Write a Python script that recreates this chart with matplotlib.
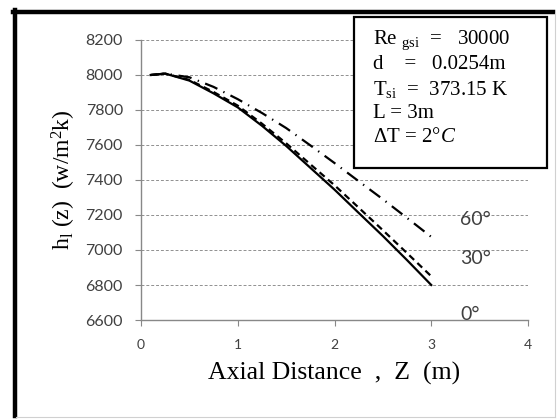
import matplotlib
matplotlib.use("Agg")
import matplotlib.pyplot as plt
from matplotlib.patches import Rectangle
from matplotlib.lines import Line2D

plt.rcParams['mathtext.fontset'] = 'custom'
plt.rcParams['mathtext.rm'] = 'Liberation Serif'
plt.rcParams['mathtext.it'] = 'Liberation Serif:italic'
plt.rcParams['mathtext.bf'] = 'Liberation Serif:bold'

z = [0.1, 0.25, 0.5, 0.75, 1.0, 1.25, 1.5, 1.75, 2.0, 2.25, 2.5, 2.75, 3.0]
h_0 = [8000, 8008, 7968, 7895, 7815, 7710, 7595, 7470, 7345, 7212, 7080, 6942, 6800]
h_30 = [8000, 8008, 7972, 7903, 7825, 7722, 7610, 7490, 7370, 7242, 7113, 6982, 6850]
h_60 = [8000, 8008, 7987, 7932, 7862, 7783, 7697, 7598, 7497, 7393, 7290, 7183, 7075]
angle_labels = ['60°', '30°', '0°']
angle_label_y = [7177, 6949, 6634]
yticks = [6600, 6800, 7000, 7200, 7400, 7600, 7800, 8000, 8200]
xticks = [0, 1, 2, 3, 4]
info_lines = [r'Re $_{\rm gsi}$  =   30000',
              r'd    =   0.0254m',
              r'T$_{\rm si}$  =  373.15 K',
              r'L = 3m',
              r'ΔT = 2°$\it{C}$']

fig = plt.figure(figsize=(5.6, 4.19), dpi=100)
fig.patch.set_facecolor('white')

# outer frame
fig.add_artist(Line2D([14.5/560, 14.5/560], [1-10.5/419, 1-416/419], color='black', lw=3.2))
fig.add_artist(Line2D([13/560, 553/560], [1-12/419, 1-12/419], color='black', lw=3.2))
fig.add_artist(Line2D([555/560, 555/560], [1-13/419, 1-417/419], color='#d0d0d0', lw=0.8))
fig.add_artist(Line2D([16/560, 555/560], [1-417/419, 1-417/419], color='#d0d0d0', lw=0.8))

ax = fig.add_axes([141/560, 1-320/419, 387/560, 280/419])
ax.set_xlim(0, 4)
ax.set_ylim(6600, 8200)

ax.plot(z, h_0, color='black', lw=1.6, ls='-')
ax.plot(z, h_30, color='black', lw=1.6, ls=(0, (3, 2)))
ax.plot(z, h_60, color='black', lw=1.6, ls=(0, (6, 3, 0.6, 3)))

for lab, yv in zip(angle_labels, angle_label_y):
    ax.text(3.3, yv, lab, fontsize=14, color='#404040', family='Lato',
            va='center', ha='left')

for yv in yticks[1:]:
    ax.axhline(yv, color='#909090', lw=0.7, ls=(0, (3, 2)), zorder=0)

ax.set_yticks(yticks)
ax.set_xticks(xticks)
ax.set_yticklabels([str(v) for v in yticks], fontsize=11.5, color='#404040', family='Lato')
ax.set_xticklabels([str(v) for v in xticks], fontsize=10, color='#404040', family='Lato')
ax.tick_params(axis='y', length=4, color='#888888', pad=9)
ax.tick_params(axis='x', length=4, color='#888888', pad=10)
for s in ['top', 'right']:
    ax.spines[s].set_visible(False)
for s in ['left', 'bottom']:
    ax.spines[s].set_color('#888888')
    ax.spines[s].set_linewidth(1.0)

fig.text(334/560, 1-373/419, 'Axial Distance  ,  Z  (m)', fontsize=18.5,
         family='Liberation Serif', ha='center', va='center')
fig.text(64/560, 1-180/419, r'h$_{\rm l}$ (z)  (w/m$^{\rm 2}$k)', fontsize=17,
         family='Liberation Serif', ha='center', va='center', rotation=90)

# info box
fig.add_artist(Rectangle((354/560, 1-168/419), 193/560, 151/419,
                         transform=fig.transFigure, facecolor='white',
                         edgecolor='black', lw=1.6, zorder=5))
line_y = [40, 64, 89, 113, 137]
for t, yy in zip(info_lines, line_y):
    fig.text(373/560, 1-yy/419, t, fontsize=15, family='Liberation Serif',
             ha='left', va='center', zorder=6)

fig.savefig('out.png', dpi=100)
